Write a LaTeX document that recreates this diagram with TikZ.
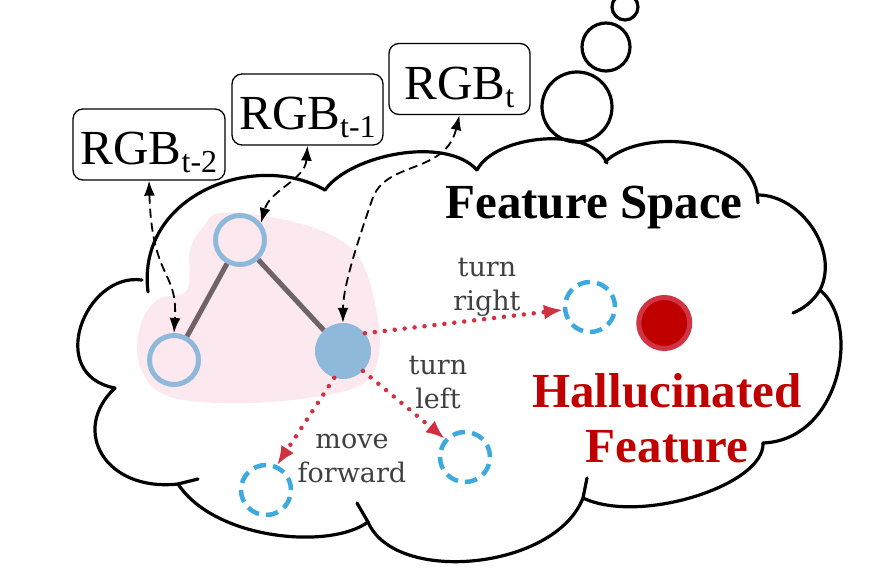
\documentclass[tikz,border=0pt]{standalone}
\usepackage{fontspec}
\setmainfont{Liberation Serif}
\newfontfamily\labelfont{DejaVu Serif}
\usetikzlibrary{arrows.meta,positioning}

\definecolor{nodeblue}{RGB}{143,185,218}
\definecolor{dashblue}{RGB}{60,170,222}
\definecolor{blobpink}{RGB}{252,233,240}
\definecolor{edgegray}{RGB}{110,100,104}
\definecolor{darkred}{RGB}{192,0,0}
\definecolor{ringred}{RGB}{208,52,66}
\definecolor{arrowred}{RGB}{208,48,64}
\definecolor{labelgray}{RGB}{64,64,64}

\newcommand{\tsub}[1]{\raisebox{-8pt}{\fontsize{32}{32}\selectfont #1}}

\tikzset{
  cloudline/.style={line width=3.2pt, line cap=round},
  rgbbox/.style={draw, rounded corners=10pt, line width=1.3pt, inner xsep=0pt, inner ysep=9pt,
    text height=47pt, text depth=6pt, font=\fontsize{49}{49}\selectfont},
  ring/.style={circle, draw=nodeblue, line width=5pt, minimum size=49pt, inner sep=0pt},
  current/.style={circle, fill=nodeblue, minimum size=56pt, inner sep=0pt},
  guess/.style={circle, draw=dashblue, line width=4.5pt, dash pattern=on 12.5pt off 7.1pt, minimum size=50pt, inner sep=0pt},
  hallu/.style={circle, draw=ringred, fill=darkred, line width=5pt, minimum size=51pt, inner sep=0pt},
  graphedge/.style={draw=edgegray, line width=5pt},
  link/.style={line width=1.8pt, dash pattern=on 9pt off 5pt, {Latex[length=15pt,width=11pt]}-{Latex[length=15pt,width=11pt]}},
  actarrow/.style={arrowred, line width=4.5pt, line cap=round, dash pattern=on 0pt off 10pt, -{Latex[length=19pt,width=15pt]}},
  actlabel/.style={align=center, text=labelgray, font=\labelfont\fontsize{27}{34}\selectfont},
}

\begin{document}
\begin{tikzpicture}[x=1pt,y=-1pt]
\useasboundingbox (0,0) rectangle (896,572);

\fill[blobpink] plot[smooth cycle, tension=0.6] coordinates {(220,213) (270,217) (320,230) (353,250) (370,283) (380,340) (370,377) (337,393) (253,403) (170,397) (140,367) (140,327) (157,300) (187,290) (190,250) (203,227)};

\draw[cloudline] (148,292) .. controls (136,195) and (255,150) .. (325,190);
\draw[cloudline] (325,190) .. controls (350,155) and (445,135) .. (477,170);
\draw[cloudline] (477,170) .. controls (495,135) and (590,125) .. (607,163);
\draw[cloudline] (605,162) .. controls (640,128) and (745,135) .. (757,193) -- (758,203);
\draw[cloudline] (758,195) .. controls (800,195) and (840,250) .. (820,290) .. controls (812,303) and (802,309) .. (793,313);
\draw[cloudline] (820,290) .. controls (862,325) and (840,440) .. (763,443);
\draw[cloudline] (763,443) .. controls (765,485) and (640,525) .. (583,498);
\draw[cloudline] (587,478) -- (583,498) .. controls (555,570) and (395,585) .. (368,522) -- (357,503);
\draw[cloudline] (368,522) .. controls (330,550) and (215,540) .. (178,484);
\draw[cloudline] (115,388) .. controls (70,430) and (105,492) .. (178,484) -- (198,479);
\draw[cloudline] (142,280) .. controls (85,272) and (45,375) .. (115,388);

\draw[cloudline] (577,107) circle (35);
\draw[cloudline] (606,47) circle (24);
\draw[cloudline] (625,7) circle (13);

\node[rgbbox, minimum width=152pt] (b2) at (149,144.5) {RGB\tsub{t-2}};
\node[rgbbox, minimum width=151pt] (b1) at (307.5,109.5) {RGB\tsub{t-1}};
\node[rgbbox, minimum width=141pt] (b0) at (459.5,79) {RGB\tsub{t}};

\node[ring] (n1) at (174,360) {};
\node[ring] (n2) at (240,240) {};
\node[current] (n3) at (343,351) {};

\node[guess] (gr) at (590,307) {};
\node[guess] (gl) at (465,457) {};
\node[guess] (gf) at (266,490) {};
\node[hallu, right=19pt of gr, yshift=-16pt] (hd) {};

\node[anchor=base, font=\fontsize{49}{49}\selectfont\bfseries] (fs) at (594,218) {Feature Space};
\node[align=center, text=darkred, font=\fontsize{49}{55}\selectfont\bfseries] (hf) at (667,418) {Hallucinated\\Feature};

\node[actlabel] (tr) at (487,287) {turn\\right};
\node[actlabel] (tl) at (438,383) {turn\\left};
\node[actlabel] (mf) at (352,458) {move\\forward};

\draw[graphedge] (n2) -- (n1);
\draw[graphedge] (n2) -- (n3);

\draw[link] (b2.south) .. controls (152,280) and (178,270) .. (n1.north);
\draw[link] (b1.south) .. controls (305,180) and (270,190) .. (n2.39);
\draw[link] (b0.south) .. controls (445,175) and (385,160) .. (372,200) .. controls (360,235) and (343,285) .. (n3.north);

\draw[actarrow] (n3.39) -- (gr.186);
\draw[actarrow] (n3.-45) -- (gl.138);
\draw[actarrow] (n3.-108) -- (gf.66);

\end{tikzpicture}
\end{document}
